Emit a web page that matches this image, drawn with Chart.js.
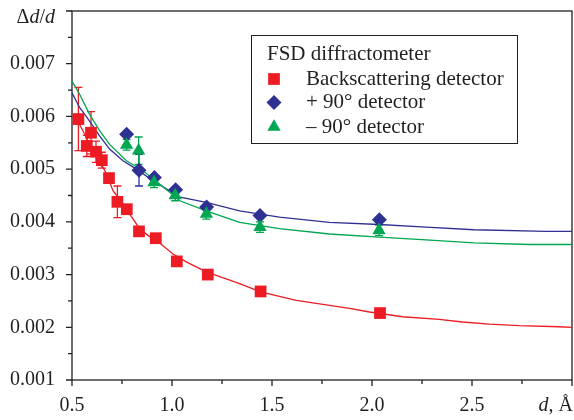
<!DOCTYPE html>
<html>
<head>
<meta charset="utf-8">
<script src="https://cdn.jsdelivr.net/npm/chart.js@4.4.0/dist/chart.umd.min.js"></script>
<style>
  html, body { margin: 0; padding: 0; background: #fff; }
  canvas { display: block; }
</style>
</head>
<body>
<canvas id="chart" width="574" height="420"></canvas>
<script>
// Axis ticks
const xTicks = [0.5, 1.0, 1.5, 2.0, 2.5, 3.0];
const yTicks = [0.001, 0.002, 0.003, 0.004, 0.005, 0.006, 0.007, 0.008];

// Backscattering detector (red squares)
const redX = [0.532, 0.574, 0.595, 0.62, 0.649, 0.685, 0.727, 0.774, 0.835, 0.919, 1.024, 1.179, 1.443, 2.04];
const redY = [0.00595, 0.00544, 0.00569, 0.00533, 0.00517, 0.00483, 0.00438, 0.00424, 0.00382, 0.00369, 0.00325, 0.00300, 0.00268, 0.00227];
const redErr = [0.0006, 0.0002, 0.0004, 0.0002, 0.00015, 0, 0.0003, 0, 0, 0, 0, 0, 0, 0];

// +90 detector (blue diamonds)
const blueX = [0.773, 0.835, 0.912, 1.018, 1.173, 1.44, 2.037];
const blueY = [0.00566, 0.00498, 0.00484, 0.00461, 0.00428, 0.00412, 0.00404];
const blueErr = [0, 0.0003, 0, 0, 0, 0, 0];

// -90 detector (green triangles)
const greenX = [0.773, 0.833, 0.91, 1.016, 1.172, 1.44, 2.035];
const greenY = [0.00546, 0.00535, 0.00475, 0.0045, 0.00415, 0.0039, 0.00384];
const greenErr = [0.0001, 0.00026, 0.0001, 0.0001, 0.0001, 0.0001, 0.0001];

// Resolution curves
const redFitX = [0.53, 0.597, 0.638, 0.672, 0.705, 0.755, 0.788, 0.838, 0.888, 0.938, 1.005, 1.071, 1.171, 1.271, 1.338, 1.443, 1.621, 1.888, 1.987, 2.153, 2.336, 2.453, 2.587, 2.736, 2.936, 3.0];
const redFitY = [0.00591, 0.00541, 0.00516, 0.00491, 0.00459, 0.00434, 0.00415, 0.00387, 0.00372, 0.0036, 0.00339, 0.00324, 0.00305, 0.00292, 0.00283, 0.00267, 0.00251, 0.00236, 0.00229, 0.0022, 0.00215, 0.0021, 0.00206, 0.00203, 0.00201, 0.002];
const blueFitX = [0.5, 0.538, 0.588, 0.638, 0.688, 0.755, 0.822, 0.905, 1.04, 1.171, 1.338, 1.537, 1.787, 2.037, 2.27, 2.51, 2.87, 3.0];
const blueFitY = [0.00645, 0.00617, 0.00591, 0.00563, 0.00538, 0.00516, 0.0050, 0.00478, 0.00447, 0.00437, 0.00421, 0.00409, 0.00399, 0.00395, 0.0039, 0.00385, 0.00382, 0.00382];
const greenFitX = [0.5, 0.538, 0.588, 0.638, 0.688, 0.772, 0.855, 0.938, 1.039, 1.171, 1.338, 1.537, 1.787, 2.037, 2.27, 2.51, 2.786, 3.0];
const greenFitY = [0.00667, 0.00642, 0.00604, 0.00573, 0.00547, 0.00516, 0.00497, 0.00472, 0.0044, 0.00421, 0.00399, 0.00387, 0.00377, 0.00371, 0.00366, 0.0036, 0.00357, 0.00357];

const legendTitle = 'FSD diffractometer';
const legendLabels = ['Backscattering detector', '+ 90° detector', '– 90° detector'];

const RED = '#ed1c24';
const BLUE = '#2e3192';
const GREEN = '#00a651';
const ink = '#231f20';
const serif = "'Liberation Serif', 'Times New Roman', serif";

function toPoints(xs, ys) {
    return xs.map((x, i) => ({ x: x, y: ys[i] }));
}

// small shape helper for the legend markers
function drawMarker(ctx, style, x, y, r) {
    ctx.beginPath();
    if (style === 'rect') {
        const s = r * Math.SQRT1_2;
        ctx.rect(x - s, y - s, 2 * s, 2 * s);
    } else if (style === 'rectRot') {
        ctx.moveTo(x - r, y); ctx.lineTo(x, y - r); ctx.lineTo(x + r, y); ctx.lineTo(x, y + r);
    } else {
        ctx.moveTo(x, y - r);
        ctx.lineTo(x + r * Math.sin(2 * Math.PI / 3), y - r * Math.cos(2 * Math.PI / 3));
        ctx.lineTo(x + r * Math.sin(4 * Math.PI / 3), y - r * Math.cos(4 * Math.PI / 3));
    }
    ctx.closePath();
    ctx.fill();
}

function drawMixed(ctx, parts, xRight, yMid, size) {
    let w = 0;
    parts.forEach(p => {
        ctx.font = (p[1] ? 'italic ' : '') + size + 'px ' + serif;
        w += ctx.measureText(p[0]).width;
    });
    let x = xRight - w;
    parts.forEach(p => {
        ctx.font = (p[1] ? 'italic ' : '') + size + 'px ' + serif;
        ctx.fillText(p[0], x, yMid);
        x += ctx.measureText(p[0]).width;
    });
}

// frame, major/minor ticks and error bars
const frameAndErrors = {
    id: 'frameAndErrors',
    beforeDatasetsDraw(chart) {
        const { ctx, chartArea: a, scales } = chart;
        const xs = scales.x, ys = scales.y;
        ctx.save();
        ctx.strokeStyle = ink;
        ctx.lineWidth = 1.3;
        ctx.strokeRect(a.left, a.top, a.right - a.left, a.bottom - a.top);
        ctx.beginPath();
        yTicks.forEach((v, i) => {
            const py = ys.getPixelForValue(v);
            ctx.moveTo(a.left - 6, py); ctx.lineTo(a.left, py);
            if (i > 0) {
                const pm = ys.getPixelForValue((v + yTicks[i - 1]) / 2);
                ctx.moveTo(a.left - 4, pm); ctx.lineTo(a.left, pm);
            }
        });
        xTicks.forEach((v, i) => {
            const px = xs.getPixelForValue(v);
            ctx.moveTo(px, a.bottom); ctx.lineTo(px, a.bottom + 6);
            if (i > 0) {
                const pm = xs.getPixelForValue((v + xTicks[i - 1]) / 2);
                ctx.moveTo(pm, a.bottom); ctx.lineTo(pm, a.bottom + 4);
            }
        });
        ctx.stroke();

        // error bars
        [[redX, redY, redErr, RED], [blueX, blueY, blueErr, BLUE], [greenX, greenY, greenErr, GREEN]].forEach(s => {
            ctx.strokeStyle = s[3];
            ctx.lineWidth = 1.3;
            ctx.beginPath();
            s[0].forEach((xv, i) => {
                const e = s[2][i];
                if (!e) return;
                const px = xs.getPixelForValue(xv);
                const top = ys.getPixelForValue(s[1][i] + e);
                const bot = ys.getPixelForValue(s[1][i] - e);
                ctx.moveTo(px, top); ctx.lineTo(px, bot);
                ctx.moveTo(px - 4, top); ctx.lineTo(px + 4, top);
                ctx.moveTo(px - 4, bot); ctx.lineTo(px + 4, bot);
            });
            ctx.stroke();
        });
        ctx.restore();
    },
    afterDraw(chart) {
        const ctx = chart.ctx;
        ctx.save();
        ctx.fillStyle = ink;
        ctx.textBaseline = 'middle';
        ctx.textAlign = 'left';

        // axis titles
        drawMixed(ctx, [['Δ', false], ['d', true], ['/', false], ['d', true]], 55, 18, 20);
        drawMixed(ctx, [['d', true], [', Å', false]], 573, 406, 20);

        // legend box
        ctx.strokeStyle = ink;
        ctx.lineWidth = 1;
        ctx.strokeRect(251.5, 35.5, 266, 108);
        ctx.font = '21px ' + serif;
        ctx.fillText(legendTitle, 267, 54);
        const styles = [['rect', RED, 8.3, 79], ['rectRot', BLUE, 7.5, 102.5], ['triangle', GREEN, 7.7, 127]];
        styles.forEach((st, i) => {
            ctx.fillStyle = st[1];
            drawMarker(ctx, st[0], 274, st[3], st[2]);
            ctx.fillStyle = ink;
            ctx.fillText(legendLabels[i], 306, st[3]);
        });
        ctx.restore();
    }
};

new Chart(document.getElementById('chart'), {
    type: 'scatter',
    data: {
        datasets: [
            {
                label: 'Backscattering detector',
                data: toPoints(redX, redY),
                pointStyle: 'rect',
                pointRadius: 8.3,
                backgroundColor: RED,
                borderWidth: 0,
                order: 0
            },
            {
                label: '- 90° detector',
                data: toPoints(greenX, greenY),
                pointStyle: 'triangle',
                pointRadius: 7.7,
                backgroundColor: GREEN,
                borderWidth: 0,
                order: 1
            },
            {
                label: '+ 90° detector',
                data: toPoints(blueX, blueY),
                pointStyle: 'rectRot',
                pointRadius: 7.5,
                backgroundColor: BLUE,
                borderWidth: 0,
                order: 2
            },
            {
                type: 'line',
                data: toPoints(redFitX, redFitY),
                borderColor: RED,
                borderWidth: 1.3,
                pointRadius: 0,
                fill: false,
                order: 3
            },
            {
                type: 'line',
                data: toPoints(greenFitX, greenFitY),
                borderColor: GREEN,
                borderWidth: 1.3,
                pointRadius: 0,
                fill: false,
                order: 4
            },
            {
                type: 'line',
                data: toPoints(blueFitX, blueFitY),
                borderColor: BLUE,
                borderWidth: 1.3,
                pointRadius: 0,
                fill: false,
                order: 5
            }
        ]
    },
    options: {
        responsive: false,
        animation: false,
        layout: {
            autoPadding: false,
            padding: { top: 11, right: 2, left: 0, bottom: 0 }
        },
        scales: {
            x: {
                type: 'linear',
                min: 0.5,
                max: 3.0,
                afterBuildTicks: s => { s.ticks = xTicks.map(v => ({ value: v })); },
                afterFit: s => { s.height = 40; s.paddingLeft = 0; s.paddingRight = 0; },
                grid: { display: false, drawTicks: false },
                border: { display: false },
                ticks: {
                    autoSkip: false,
                    maxRotation: 0,
                    padding: 14,
                    color: ink,
                    font: { family: serif, size: 20 },
                    callback: v => (v >= 3 ? '' : v.toFixed(1))
                }
            },
            y: {
                type: 'linear',
                min: 0.001,
                max: 0.008,
                afterBuildTicks: s => { s.ticks = yTicks.map(v => ({ value: v })); },
                afterFit: s => { s.width = 72; s.paddingTop = 0; s.paddingBottom = 0; },
                grid: { display: false, drawTicks: false },
                border: { display: false },
                ticks: {
                    autoSkip: false,
                    padding: 17,
                    color: ink,
                    font: { family: serif, size: 20 },
                    callback: v => (v > 0.0075 ? '' : v.toFixed(3))
                }
            }
        },
        plugins: {
            legend: { display: false },
            tooltip: { enabled: false }
        }
    },
    plugins: [frameAndErrors]
});
</script>
</body>
</html>
